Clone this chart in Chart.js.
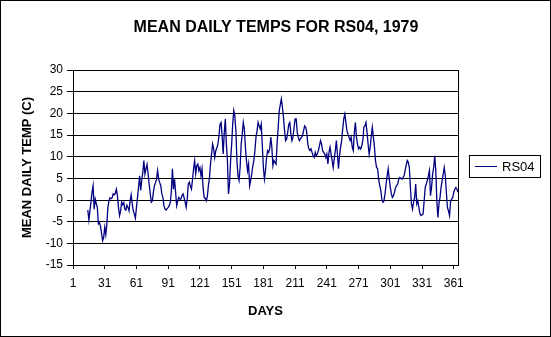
<!DOCTYPE html>
<html>
<head>
<meta charset="utf-8">
<title>Mean daily temps for RS04, 1979</title>
<script src="https://cdn.jsdelivr.net/npm/chart.js@4.4.1/dist/chart.umd.min.js"></script>
<style>
  html, body { margin: 0; padding: 0; background: #fff; }
  #wrap { width: 551px; height: 337px; }
</style>
</head>
<body>
<div id="wrap"><canvas id="chart" width="551" height="337"></canvas></div>
<script>
// ---- data ----
var seriesName = "RS04";
var firstDay = 15;           // first day with a reading
var xTicks = [1, 31, 61, 91, 121, 151, 181, 211, 241, 271, 301, 331, 361];
var yTicks = [-15, -10, -5, 0, 5, 10, 15, 20, 25, 30];
var temps = [
  -2.3, -4.6, -2.5, -0.5, 1.8, 3.3, -2.1, 0.2, -0.8, -1.7,      // 15-24
  -5.5, -5.2, -6.1, -7.7, -9.4, -8.6, -6.3, -8, -5.5, -1.7,     // 25-34
  -0.2, 0.5, 0.3, 0.5, 1.4, 1.2, 1.5, 2.5, 1, -1.7,             // 35-44
  -3.6, -2.5, -0.5, -1.1, -0.6, -2.1, -2.3, -1.2, -1.7, -2.5,   // 45-54
  -0.2, 1.2, -0.9, -2.5, -3.2, -4.2, -1.7, 0.6, 3.0, 5.6,       // 55-64
  2.2, 4.5, 6.4, 9.1, 6, 7.2, 8.2, 6, 3.7, 1.5,                 // 65-74
  -0.5, -0.2, 1.8, 3.3, 4.0, 4.8, 6.8, 4.8, 4.0, 3.3,           // 75-84
  1.4, 0.6, -1.3, -2.1, -2.3, -2.0, -1.7, -1.3, -0.5, 2.0,      // 85-94
  7.2, 2.5, 4.8, 1.8, -1.3, -0.2, 0.6, 0.2, 0.2, 1.0,           // 95-104
  1.4, 0.6, -0.5, -1.7, 0.2, 3.7, 4.1, 3.2, 2.5, 4.8,           // 105-114
  7.2, 9.1, 6, 7.9, 8.3, 6.8, 7.5, 5.6, 7.2, 2.9,               // 115-124
  0.6, 0.4, -0.2, 0.8, 3.3, 5, 8.3, 10.6, 12.9, 11.8,           // 125-134
  9.8, 11.4, 12.0, 12.9, 14.8, 17.5, 17.9, 14.8, 10.6, 15.5,    // 135-144
  18.7, 13, 9.1, 1.4, 3.7, 9.1, 12.9, 17.5, 20.6, 19.4,         // 145-154
  16, 9.1, 5.6, 4.5, 7.5, 12.9, 15.2, 17.9, 16.4, 12.2,         // 155-164
  9.1, 6.8, 8.3, 3.3, 4.5, 6, 7.9, 9.1, 11.4, 14.5,             // 165-174
  16, 17.9, 17.1, 16.4, 17.5, 12.5, 7.5, 4.8, 6.8, 9.8,         // 175-184
  11.4, 11, 11.8, 14.5, 12.2, 7.9, 9.1, 8.7, 8.3, 13.3,         // 185-194
  16.8, 20.6, 22, 23.3, 21.4, 19.1, 16, 13.7, 14.1, 15.6,       // 195-204
  17.5, 17.9, 15.2, 13.7, 14.5, 16.8, 18.7, 18.7, 15.6, 14.5,   // 205-214
  13.7, 14.1, 14.5, 14.8, 16, 17.1, 16.8, 15.6, 12.9, 11.8,     // 215-224
  11.4, 11.8, 11, 10.2, 9.8, 11, 10.2, 10.6, 11.4, 12.5,        // 225-234
  13.7, 12.9, 11.4, 11, 10.6, 9.8, 10.6, 8.3, 11, 12.2,         // 235-244
  10.6, 9.1, 7.5, 9.5, 11.4, 13.7, 10.6, 7.2, 10.2, 12.2,       // 245-254
  13.7, 16.4, 18.7, 19.8, 17.9, 16, 15.2, 14.5, 13.7, 14.5,     // 255-264
  12.2, 11.4, 15.6, 17.9, 14.5, 12.9, 11.8, 12.2, 11.8, 12.5,   // 265-274
  13.7, 16.8, 17.1, 17.9, 15.6, 12.9, 10.6, 12.2, 14.8, 16.8,   // 275-284
  14.5, 12.2, 9.1, 7.5, 7.2, 4.8, 3.3, 2.2, 0.2, -0.5,          // 285-294
  -0.2, 1.4, 3.7, 5.6, 7.2, 4.8, 2.9, 1.4, 0.6, 1.0,            // 295-304
  1.8, 2.9, 3.3, 3.7, 4.8, 5.2, 5.0, 4.8, 5.2, 5.6,             // 305-314
  6.8, 8.0, 9.1, 8.7, 7.5, 2.9, -0.9, -2.1, -0.5, 0.6,          // 315-324
  3.7, -0.9, -0.2, -1.7, -3.2, -3.6, -3.4, -3.2, -0.2, 2.9,     // 325-334
  3.7, 4.5, 5.6, 6.8, 1, 2.9, 6, 7.5, 10.2, 6.8,                // 335-344
  -0.2, -4, -0.9, 0.6, 2.9, 4.5, 6, 7.5, 5.6, 1.8,              // 345-354
  -1.7, -2.5, -3.6, -0.2, 0.2, 0.6, 1.8, 2.5, 2.9, 2.5,         // 355-364
  1.8                                                           // 365
];

var lineColor = "#000080";
var font = "Arial, 'Liberation Sans', sans-serif";

// title, outer frame, plot right edge and boxed legend (Excel style)
var frame = {
  id: "frame",
  afterDraw: function (chart) {
    var ctx = chart.ctx, a = chart.chartArea;
    ctx.save();
    ctx.strokeStyle = "#000";
    ctx.lineWidth = 1;
    ctx.strokeRect(0.5, 0.5, chart.width - 1, chart.height - 1);
    ctx.beginPath();
    ctx.moveTo(Math.round(a.right) + 0.5, a.top);
    ctx.lineTo(Math.round(a.right) + 0.5, a.bottom);
    ctx.stroke();

    ctx.fillStyle = "#000";
    ctx.font = "bold 16px " + font;
    ctx.textAlign = "center";
    ctx.textBaseline = "middle";
    ctx.fillText("MEAN DAILY TEMPS FOR RS04, 1979", 276, 28);

    // legend box
    ctx.strokeRect(469.5, 155.5, 71, 22);
    ctx.strokeStyle = lineColor;
    ctx.beginPath();
    ctx.moveTo(475, 166.5);
    ctx.lineTo(497, 166.5);
    ctx.stroke();
    ctx.font = "13px " + font;
    ctx.textAlign = "left";
    ctx.fillText(seriesName, 502, 167);
    ctx.restore();
  }
};

new Chart(document.getElementById("chart").getContext("2d"), {
  type: "line",
  data: {
    datasets: [{
      label: seriesName,
      data: temps.map(function (t, i) { return { x: firstDay + i, y: t }; }),
      borderColor: lineColor,
      borderWidth: 1.3,
      pointRadius: 0,
      tension: 0,
      fill: false
    }]
  },
  options: {
    responsive: false,
    animation: false,
    devicePixelRatio: 1,
    layout: { padding: { top: 70, right: 93, left: 0, bottom: 0 } },
    plugins: {
      legend: { display: false },
      title: { display: false },
      tooltip: { enabled: false }
    },
    scales: {
      x: {
        type: "linear",
        min: 1,
        max: 365,
        afterBuildTicks: function (axis) {
          axis.ticks = xTicks.map(function (v) { return { value: v }; });
        },
        afterFit: function (axis) { axis.height = 72; },
        ticks: {
          autoSkip: false,
          maxRotation: 0,
          color: "#000",
          padding: 7,
          font: { family: font, size: 12 }
        },
        grid: { drawOnChartArea: false, color: "#000", tickLength: 4 },
        border: { color: "#000" },
        title: {
          display: true,
          text: "DAYS",
          color: "#000",
          padding: { top: 0, bottom: 18 },
          font: { family: font, size: 13, weight: "bold" }
        }
      },
      y: {
        min: -15,
        max: 30,
        afterBuildTicks: function (axis) {
          axis.ticks = yTicks.map(function (v) { return { value: v }; });
        },
        afterFit: function (axis) { axis.width = 73; },
        ticks: {
          color: "#000",
          padding: 4,
          font: { family: font, size: 12 }
        },
        grid: { color: "#000", tickLength: 6 },
        border: { color: "#000" },
        title: {
          display: true,
          text: "MEAN DAILY TEMP (C)",
          color: "#000",
          padding: { top: 20, bottom: 0 },
          font: { family: font, size: 13, weight: "bold" }
        }
      }
    }
  },
  plugins: [frame]
});
</script>
</body>
</html>
